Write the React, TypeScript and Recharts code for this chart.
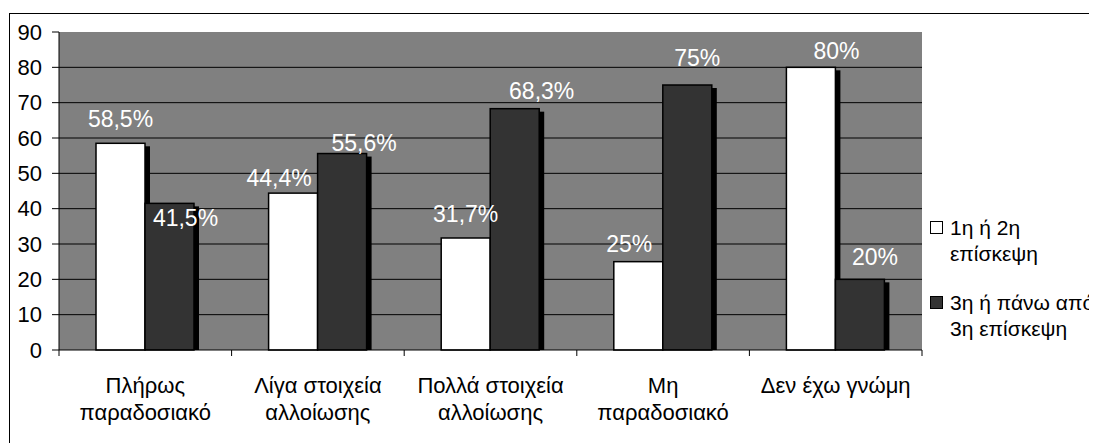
import { BarChart, Bar, XAxis, YAxis, CartesianGrid, LabelList, Legend } from "recharts";

// categories (line breaks as in the original axis)
const categories = [
  "Πλήρως\nπαραδοσιακό",
  "Λίγα στοιχεία\nαλλοίωσης",
  "Πολλά στοιχεία\nαλλοίωσης",
  "Μη\nπαραδοσιακό",
  "Δεν έχω γνώμη",
];
const firstVisit = [58.5, 44.4, 31.7, 25, 80];
const laterVisit = [41.5, 55.6, 68.3, 75, 20];
const seriesNames = ["1η ή 2η\nεπίσκεψη", "3η ή πάνω από\n3η επίσκεψη"];
const yTicks = [0, 10, 20, 30, 40, 50, 60, 70, 80, 90];
const gridValues = [10, 20, 30, 40, 50, 60, 70, 80];

// label nudges (dx, gap above bar top) – labels were moved by hand in the original
const firstNudge = [[0, 16], [-14, 7], [0, 16], [-9, 9.5], [25.5, 8]];
const laterNudge = [[16, -23], [22, 3], [27, 10], [10, 19], [15, 14]];

const W = 1089;
const H = 435;
const MARGIN = { top: 24, right: 175, bottom: 13, left: 0 };
const Y_W = 51;
const X_H = 80;
const PLOT_BOTTOM = H - MARGIN.bottom - X_H;
const BAND = (W - MARGIN.left - MARGIN.right - Y_W) / categories.length;
const FONT = "'Liberation Sans', Arial, sans-serif";

const data = categories.map((c, i) => ({
  name: c,
  first: firstVisit[i],
  later: laterVisit[i],
}));

const pct = (v: number) => `${String(v).replace(".", ",")}%`;

function ShadowBar(props: any) {
  const { x, y, width, height, fill } = props;
  if (height <= 0) return null;
  return (
    <g>
      <rect x={x + 5} y={y + 3} width={width} height={Math.max(0, height - 3)} fill="#000" />
      <rect x={x} y={y} width={width} height={height} fill={fill} stroke="#000" strokeWidth={1.5} />
    </g>
  );
}

const makeLabel = (nudge: number[][]) => (props: any) => {
  const { x, y, width, value, index } = props;
  const [dx, gap] = nudge[index] || [0, 12];
  return (
    <text
      x={x + width / 2 + dx}
      y={y - gap}
      textAnchor="middle"
      fill="#fff"
      fontSize={23}
      fontFamily={FONT}
    >
      {pct(value)}
    </text>
  );
};

function CategoryTick(props: any) {
  const { x, payload, index } = props;
  const lines = String(payload.value).split("\n");
  return (
    <g>
      <line x1={x - BAND / 2} x2={x - BAND / 2} y1={PLOT_BOTTOM} y2={PLOT_BOTTOM + 6} stroke="#000" />
      {index === categories.length - 1 && (
        <line x1={x + BAND / 2} x2={x + BAND / 2} y1={PLOT_BOTTOM} y2={PLOT_BOTTOM + 6} stroke="#000" />
      )}
      <text x={x} y={PLOT_BOTTOM + 43} textAnchor="middle" fill="#000" fontSize={22} fontFamily={FONT}>
        {lines.map((l, i) => (
          <tspan key={i} x={x} dy={i === 0 ? 0 : 27}>
            {l}
          </tspan>
        ))}
      </text>
    </g>
  );
}

function renderLegend(props: any) {
  const { payload } = props;
  return (
    <div style={{ display: "flex", flexDirection: "column", gap: 23, fontFamily: FONT, fontSize: 21 }}>
      {(payload || []).map((p: any, i: number) => (
        <div key={i} style={{ display: "flex", alignItems: "flex-start" }}>
          <div
            style={{
              width: 11,
              height: 11,
              marginTop: 6,
              background: p.color,
              border: "1px solid #000",
              flex: "none",
            }}
          />
          <div style={{ marginLeft: 7, lineHeight: "26px", whiteSpace: "pre", color: "#000" }}>{p.value}</div>
        </div>
      ))}
    </div>
  );
}

export default function App() {
  return (
    <div style={{ position: "relative", width: W, height: H, overflow: "hidden", background: "#fff" }}>
      <style>{"html,body{overflow:hidden}"}</style>
      <div
        style={{
          position: "absolute",
          left: 1,
          top: 5,
          width: 1086,
          height: 440,
          borderTop: "1px solid #000",
          borderLeft: "1px solid #000",
          borderRight: "1px solid #000",
        }}
      />
      <BarChart width={W} height={H} data={data} margin={MARGIN} barGap={0} barSize={49}>
        <CartesianGrid
          vertical={false}
          horizontalValues={gridValues}
          stroke="#000"
          strokeWidth={1}
          fill="#808080"
          fillOpacity={1}
        />
        <XAxis
          dataKey="name"
          height={X_H}
          interval={0}
          axisLine={{ stroke: "#000" }}
          tickLine={false}
          tick={<CategoryTick />}
        />
        <YAxis
          width={Y_W}
          domain={[0, 90]}
          ticks={yTicks}
          interval={0}
          axisLine={{ stroke: "#000" }}
          tickLine={{ stroke: "#000" }}
          tickSize={7}
          tickMargin={10}
          tick={{ fill: "#000", fontSize: 22, fontFamily: FONT }}
        />
        <Legend
          layout="vertical"
          verticalAlign="middle"
          align="center"
          wrapperStyle={{ left: 922, top: 207, width: 175, height: "auto" }}
          content={renderLegend}
        />
        <Bar dataKey="first" name={seriesNames[0]} fill="#ffffff" shape={<ShadowBar />} isAnimationActive={false}>
          <LabelList dataKey="first" content={makeLabel(firstNudge)} />
        </Bar>
        <Bar dataKey="later" name={seriesNames[1]} fill="#333333" shape={<ShadowBar />} isAnimationActive={false}>
          <LabelList dataKey="later" content={makeLabel(laterNudge)} />
        </Bar>
      </BarChart>
    </div>
  );
}
